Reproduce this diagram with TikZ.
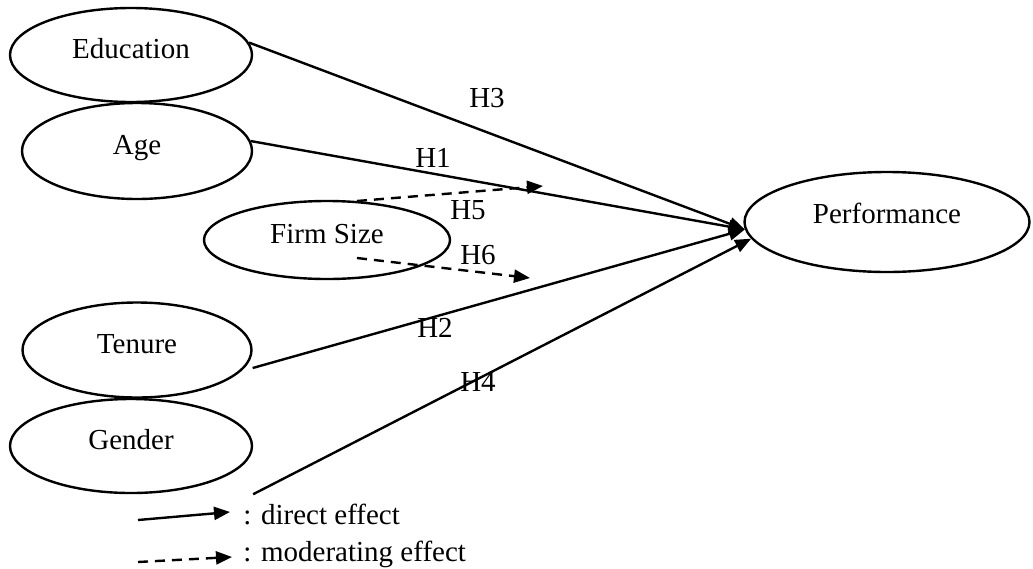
\documentclass[tikz,border=0pt]{standalone}
\usepackage{fontspec}
\setmainfont{Liberation Serif}
\usetikzlibrary{shapes.geometric,arrows.meta}
\tikzset{
    construct/.style={draw,ellipse,line width=1.2pt,inner sep=0pt,text height=0.7em,text depth=0.4em},
    hyp/.style={inner sep=0pt},
    direct/.style={line width=1.2pt,-{Triangle[length=8pt,width=6.5pt]}},
    moderating/.style={direct,dash pattern=on 5pt off 3.5pt},
}

\begin{document}
\begin{tikzpicture}[x=0.5pt,y=-0.5pt,font=\fontsize{14.5}{17}\selectfont]
            \useasboundingbox (0,0) rectangle (1033,568);
            % constructs
            \node[construct,minimum width=121pt,minimum height=47pt] (edu) at (131,55) {Education};
            \node[construct,minimum width=115pt,minimum height=48pt] (age) at (137,151) {Age};
            \node[construct,minimum width=123pt,minimum height=39pt] (firm) at (327,240) {Firm Size};
            \node[construct,minimum width=114.5pt,minimum height=47.5pt] (tenure) at (137,350) {Tenure};
            \node[construct,minimum width=121pt,minimum height=47pt] (gender) at (131,446) {Gender};
            \node[construct,minimum width=142.5pt,minimum height=50pt,text depth=0.6em] (perf) at (887,222) {Performance};
            % direct effects
            \draw[direct] (edu.6) -- (perf.183);
            \draw[direct] (age.5) -- (perf.183);
            \draw[direct] ([yshift=-9pt]tenure.east) -- (perf.183);
            \draw[direct] (gender.east |- gender.south) -- (perf.187);
            % moderating effects
            \coordinate (h5start) at (357,201);
            \coordinate (h5end) at (543,186);
            \coordinate (h6start) at (357,258);
            \coordinate (h6end) at (530,278);
            \draw[moderating] (h5start) -- (h5end);
            \draw[moderating] (h6start) -- (h6end);
            % hypotheses
            \node[hyp] (h3) at (487,98) {H3};
            \node[hyp] (h1) at (433,158) {H1};
            \node[hyp] (h5) at (468,210) {H5};
            \node[hyp] (h6) at (478,255) {H6};
            \node[hyp] (h2) at (435,328) {H2};
            \node[hyp] (h4) at (478,382) {H4};
            % legend
            \node[hyp,anchor=base west] (directtxt) at (243,524) {: direct effect};
            \node[hyp,anchor=base west] (modtxt) at (243,561) {: moderating effect};
            \coordinate (lg1a) at (138,520);
            \coordinate (lg1b) at (230,512);
            \coordinate (lg2a) at (138,562);
            \coordinate (lg2b) at (232,557);
            \draw[direct] (lg1a) -- (lg1b);
            \draw[moderating] (lg2a) -- (lg2b);
        \end{tikzpicture}
\end{document}
